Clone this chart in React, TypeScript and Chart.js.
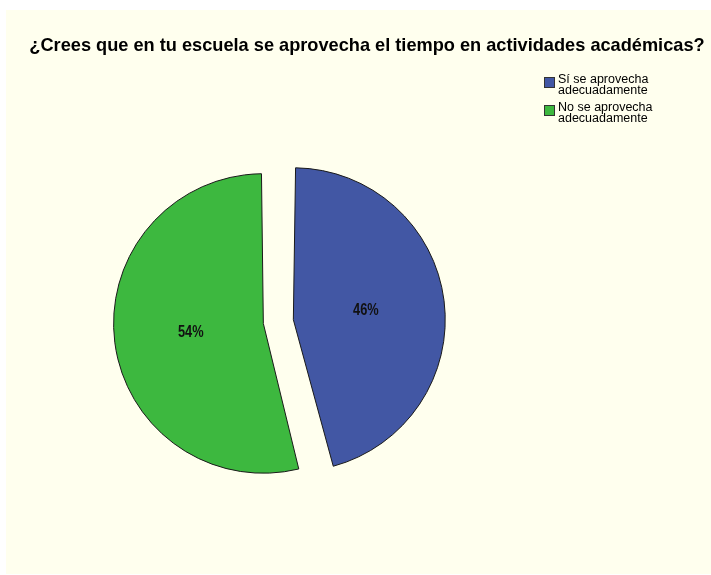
import React, { useEffect, useRef } from "react";
import { Chart, registerables } from "chart.js";

Chart.register(...registerables);

const TITLE = "¿Crees que en tu escuela se aprovecha el tiempo en actividades académicas?";
const CATEGORIES = ["Sí se aprovecha adecuadamente", "No se aprovecha adecuadamente"];
const LEGEND_LINES = [
  ["Sí se aprovecha", "adecuadamente"],
  ["No se aprovecha", "adecuadamente"],
];
const VALUES = [46, 54];
const COLORS = ["#4257A4", "#3DB83F"];
const EXPLODE = [74, 47];

const BG_WHITE = "#FFFFFF";
const BG_CREAM = "#FFFFEE";
const SANS = "'Liberation Sans', Arial, sans-serif";

const backgroundPlugin = {
  id: "bgPlugin",
  beforeDraw(chart: any) {
    const ctx = chart.ctx;
    ctx.save();
    ctx.fillStyle = BG_WHITE;
    ctx.fillRect(0, 0, chart.width, chart.height);
    ctx.fillStyle = BG_CREAM;
    ctx.fillRect(6, 10, chart.width - 6, chart.height - 11);
    ctx.restore();
  },
};

const titlePlugin = {
  id: "titlePlugin",
  afterDraw(chart: any) {
    const ctx = chart.ctx;
    ctx.save();
    ctx.fillStyle = "#000";
    ctx.font = `bold 18.2px ${SANS}`;
    ctx.textAlign = "center";
    ctx.textBaseline = "alphabetic";
    ctx.fillText(TITLE, 367, 51);
    ctx.restore();
  },
};

const legendPlugin = {
  id: "legendPlugin",
  afterDraw(chart: any) {
    const ctx = chart.ctx;
    ctx.save();
    const boxX = 544;
    const startY = 77;
    const itemGap = 28;
    const lineH = 11;
    ctx.font = `12.5px ${SANS}`;
    ctx.textAlign = "left";
    ctx.textBaseline = "alphabetic";
    LEGEND_LINES.forEach((lines, i) => {
      const y = startY + i * itemGap;
      ctx.fillStyle = COLORS[i];
      ctx.fillRect(boxX, y, 11, 11);
      ctx.strokeStyle = "#333";
      ctx.lineWidth = 1;
      ctx.strokeRect(boxX + 0.5, y + 0.5, 10, 10);
      ctx.fillStyle = "#000";
      lines.forEach((t, j) => {
        ctx.fillText(t, boxX + 14, y + 6 + j * lineH);
      });
    });
    ctx.restore();
  },
};

const labelPlugin = {
  id: "labelPlugin",
  afterDatasetsDraw(chart: any) {
    const ctx = chart.ctx;
    const meta = chart.getDatasetMeta(0);
    const total = VALUES.reduce((a, b) => a + b, 0);
    meta.data.forEach((arc: any, i: number) => {
      const { x, y, startAngle, endAngle, outerRadius } = arc.getProps(
        ["x", "y", "startAngle", "endAngle", "outerRadius"],
        true
      );
      const off = (arc.options.offset || 0) / 4;
      const mid = (startAngle + endAngle) / 2;
      const d = off + outerRadius * 0.53;
      const px = x + Math.cos(mid) * d;
      const py = y + Math.sin(mid) * d;
      ctx.save();
      ctx.translate(px, py);
      ctx.scale(0.8, 1);
      ctx.fillStyle = "#111";
      ctx.font = `bold 16px ${SANS}`;
      ctx.textAlign = "center";
      ctx.textBaseline = "middle";
      ctx.fillText(`${Math.round((VALUES[i] / total) * 100)}%`, 0, 0);
      ctx.restore();
    });
  },
};

export default function App() {
  const ref = useRef<HTMLCanvasElement>(null);
  useEffect(() => {
    const chart = new Chart(ref.current as HTMLCanvasElement, {
      type: "pie",
      data: {
        labels: CATEGORIES,
        datasets: [
          {
            data: VALUES,
            backgroundColor: COLORS,
            borderColor: "#1a1a1a",
            borderWidth: 1,
            offset: EXPLODE,
          },
        ],
      },
      options: {
        responsive: false,
        animation: false,
        devicePixelRatio: 1,
        radius: 138,
        layout: { padding: { left: 20, right: 181, top: 79, bottom: 10 } },
        plugins: {
          legend: { display: false },
          title: { display: false },
          tooltip: { enabled: false },
        },
      } as any,
      plugins: [backgroundPlugin, labelPlugin, titlePlugin, legendPlugin],
    });
    return () => chart.destroy();
  }, []);
  return (
    <div style={{ position: "absolute", left: 0, top: 0, width: 711, height: 575 }}>
      <canvas ref={ref} width={711} height={575} style={{ display: "block", width: 711, height: 575 }} />
    </div>
  );
}
